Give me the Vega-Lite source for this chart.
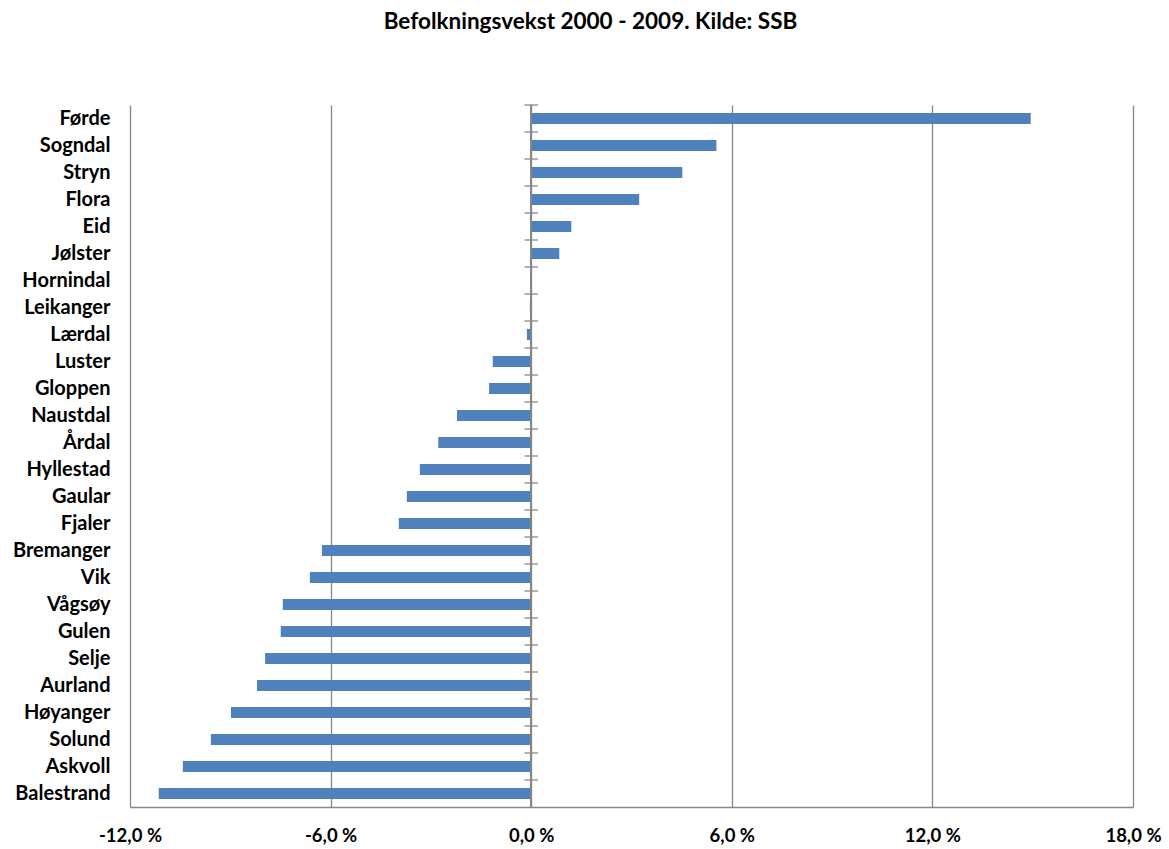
{
  "$schema": "https://vega.github.io/schema/vega-lite/v6.json",
  "autosize": {"type": "none"},
  "width": 1003,
  "height": 702,
  "padding": {"left": 130, "top": 105, "right": 36, "bottom": 42},
  "background": "white",
  "title": {
    "text": "Befolkningsvekst 2000 - 2009. Kilde: SSB",
    "font": "Lato",
    "fontSize": 22.5,
    "fontWeight": "bold",
    "color": "#000000",
    "anchor": "middle",
    "dx": -41,
    "offset": 71
  },
  "config": {
    "view": {"stroke": null},
    "axis": {"labelFont": "Lato", "labelFontWeight": "bold", "labelColor": "#000000"}
  },
  "data": {
    "values": [
      {"kommune": "Førde", "vekst": 14.94},
      {"kommune": "Sogndal", "vekst": 5.54},
      {"kommune": "Stryn", "vekst": 4.52},
      {"kommune": "Flora", "vekst": 3.23},
      {"kommune": "Eid", "vekst": 1.2},
      {"kommune": "Jølster", "vekst": 0.84},
      {"kommune": "Hornindal", "vekst": 0.0},
      {"kommune": "Leikanger", "vekst": -0.04},
      {"kommune": "Lærdal", "vekst": -0.13},
      {"kommune": "Luster", "vekst": -1.15},
      {"kommune": "Gloppen", "vekst": -1.26},
      {"kommune": "Naustdal", "vekst": -2.22},
      {"kommune": "Årdal", "vekst": -2.78},
      {"kommune": "Hyllestad", "vekst": -3.33},
      {"kommune": "Gaular", "vekst": -3.72},
      {"kommune": "Fjaler", "vekst": -3.96},
      {"kommune": "Bremanger", "vekst": -6.26},
      {"kommune": "Vik", "vekst": -6.62},
      {"kommune": "Vågsøy", "vekst": -7.43},
      {"kommune": "Gulen", "vekst": -7.49},
      {"kommune": "Selje", "vekst": -7.96},
      {"kommune": "Aurland", "vekst": -8.2},
      {"kommune": "Høyanger", "vekst": -8.98},
      {"kommune": "Solund", "vekst": -9.58},
      {"kommune": "Askvoll", "vekst": -10.42},
      {"kommune": "Balestrand", "vekst": -11.14}
    ]
  },
  "layer": [
    {
      "mark": {"type": "bar", "color": "#4F81BD"},
      "encoding": {
        "y": {
          "field": "kommune",
          "type": "nominal",
          "sort": null,
          "scale": {"paddingInner": 0.59, "paddingOuter": 0.295},
          "axis": {
            "title": null,
            "domain": false,
            "ticks": false,
            "labelFontSize": 20,
            "labelPadding": 20
          }
        },
        "x": {
          "field": "vekst",
          "type": "quantitative",
          "scale": {"domain": [-12, 18], "nice": false, "zero": false},
          "axis": {
            "title": null,
            "values": [-12, -6, 0, 6, 12, 18],
            "grid": true,
            "gridColor": "#878787",
            "gridWidth": 1.3,
            "gridOpacity": 1,
            "domainColor": "#878787",
            "domainWidth": 1.3,
            "ticks": false,
            "labelFlush": false,
            "labelFontSize": 18.5,
            "labelPadding": 19,
            "labelExpr": "replace(replace(format(datum.value, '.1f'), '.', ','), '\u2212', '-') + ' %'"
          }
        }
      }
    },
    {
      "mark": {"type": "rule", "color": "#878787", "strokeWidth": 1.3},
      "encoding": {"x": {"datum": 0}}
    },
    {
      "mark": {"type": "rule", "color": "#878787", "strokeWidth": 1.3, "yOffset": -13.5},
      "encoding": {
        "y": {"field": "kommune", "type": "nominal", "sort": null},
        "x": {"datum": -0.2},
        "x2": {"datum": 0.2}
      }
    }
  ]
}
